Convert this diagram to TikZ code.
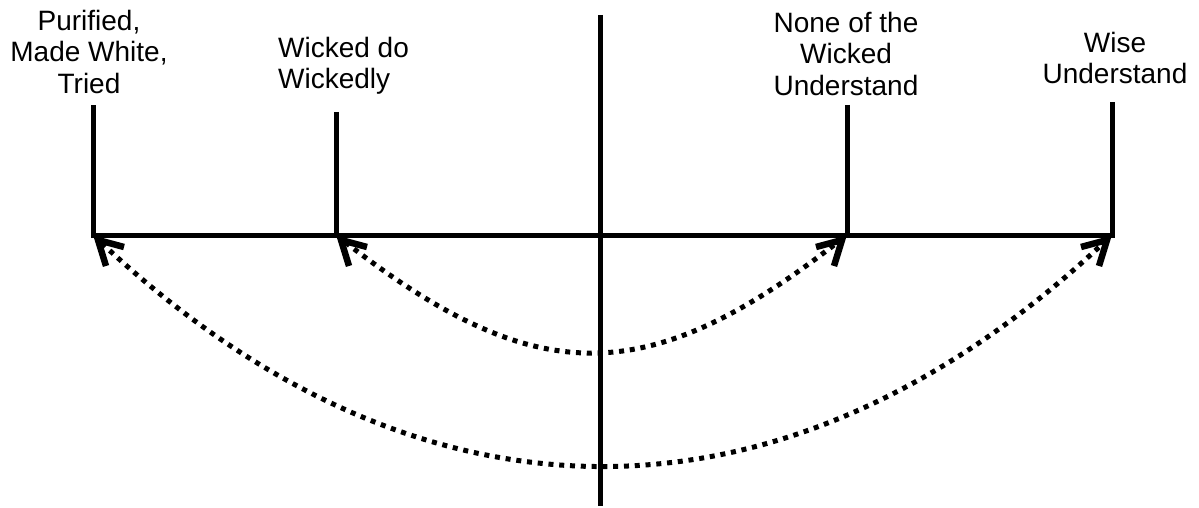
\documentclass[tikz,border=0pt]{standalone}
\usepackage{fontspec}
\setmainfont{Liberation Sans}
\usetikzlibrary{calc}
\begin{document}
\begin{tikzpicture}[x=1pt,y=-1pt,
  bar/.style={line width=5pt},
  lbl/.style={inner sep=0pt,align=center,font=\fontsize{28}{31.5}\selectfont},
  swing/.style={line width=5pt,dash pattern=on 5pt off 5.8pt},
  barb/.style={line width=6.5pt,solid,line join=miter,line cap=butt}]
\useasboundingbox (0,0) rectangle (1199,508);
% axis points
\coordinate (L1) at (93,235);
\coordinate (L2) at (336,235);
\coordinate (C) at (600,235);
\coordinate (R2) at (847,235);
\coordinate (R1) at (1112,235);
\coordinate (L1t) at (93,108);
\coordinate (L2t) at (336,112);
\coordinate (R2t) at (847,105);
\coordinate (R1t) at (1112,105);
\coordinate (Ct) at (600,15);
\coordinate (Cb) at (600,506);
% control points of the arcs
\coordinate (a1) at (536,390);
\coordinate (a2) at (647,390);
\coordinate (b1) at (420,541);
\coordinate (b2) at (785,541);
% lines
\draw[bar,line cap=rect] (L1t) -- (L1) -- (R1) -- (R1t);
\draw[bar] (L2t) -- (L2);
\draw[bar] (R2t) -- (R2);
\draw[bar] (Ct) -- (Cb);
% labels
\node[lbl,anchor=north] (t1) at (89,10) {Purified,\\Made White,\\Tried};
\node[lbl,anchor=north west,align=left] (t2) at (278,37) {Wicked do\\Wickedly};
\node[lbl,anchor=north] (t3) at (846,12) {None of the\\Wicked\\Understand};
\node[lbl,anchor=north] (t4) at (1115,32) {Wise\\Understand};
% arcs
\draw[swing] ($(L2)!12pt!(a1)$) .. controls (a1) and (a2) .. ($(R2)!12pt!(a2)$);
\draw[swing] ($(L1)!12pt!(b1)$) .. controls (b1) and (b2) .. ($(R1)!12pt!(b2)$);
% arrow heads
\coordinate (h1) at ($(L2)+(5,5)$);
\coordinate (h2) at ($(R2)+(-5,5)$);
\coordinate (h3) at ($(L1)+(5,5)$);
\coordinate (h4) at ($(R1)+(-5,5)$);
\foreach \n in {h1,h3}{
  \draw[barb] ($(\n)+(26,7)$) -- (\n) -- ($(\n)+(8,26)$);
}
\foreach \n in {h2,h4}{
  \draw[barb] ($(\n)+(-26,7)$) -- (\n) -- ($(\n)+(-8,26)$);
}
\end{tikzpicture}
\end{document}
